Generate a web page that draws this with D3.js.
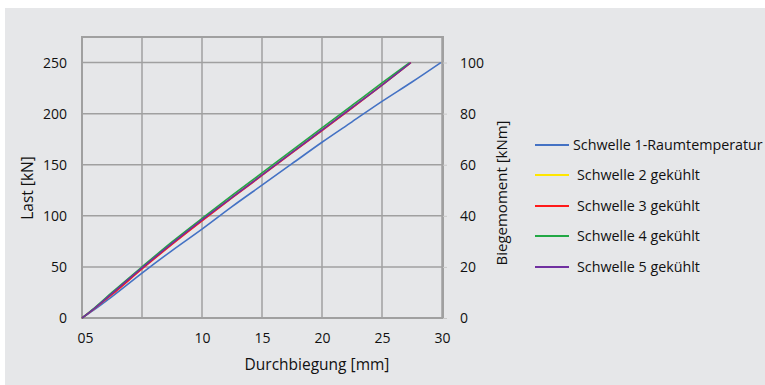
<!DOCTYPE html>
<html>
<head>
<meta charset="utf-8">
<script src="https://cdn.jsdelivr.net/npm/d3@7"></script>
<style>
  body { margin: 0; background: #fff; }
  text { font-family: "Open Sans", sans-serif; fill: #111; }
</style>
</head>
<body>
<div id="container"></div>
<script>
/* Data */
var seriesNames = ["Schwelle 1-Raumtemperatur", "Schwelle 2 gekühlt", "Schwelle 3 gekühlt", "Schwelle 4 gekühlt", "Schwelle 5 gekühlt"];
var seriesColors = ["#4472c4", "#ffe600", "#ff1a1a", "#22a845", "#7030a0"];

var s1 = [[0,0],[1,8],[2.5,21],[5,44],[7.5,66],[10,87],[12.5,109],[15,130],[17.5,151],[20,172],[22.5,192],[25,212],[27.5,231],[29.9,250]];
var s2 = [[0,0],[1,9],[2.5,23.5],[5,48.5],[7.5,72.5],[10,95.5],[12.5,118],[15,140],[17.5,162],[20,184],[22.5,206],[25,228],[27.4,250]];
var s3 = [[0,0],[1,9],[2.5,23],[5,48],[7.5,72],[10,95],[12.5,117.5],[15,139.5],[17.5,161.5],[20,183.5],[22.5,205.5],[25,228],[27.4,250]];
var s4 = [[0,0],[1,9.5],[2.5,25],[5,50],[7.5,74.5],[10,97.5],[12.5,120],[15,142],[17.5,164],[20,186],[22.5,208],[25,230],[27.3,250]];
var s5 = [[0,0],[1,9],[2.5,24],[5,49],[7.5,73],[10,96],[12.5,118],[15,140],[17.5,162],[20,184],[22.5,206],[25,228],[27.4,250]];
var allSeries = [s1, s2, s3, s4, s5];

var xTicks = [0, 5, 10, 15, 20, 25, 30];
var xTickLabels = ["05", "", "10", "15", "20", "25", "30"];
var yTicks = [0, 50, 100, 150, 200, 250];
var y2Ticks = [0, 20, 40, 60, 80, 100];

var w = 765, h = 385;
var margin = {top: 37, left: 82, right: 321, bottom: 67};
var plotW = 443 - margin.left, plotH = 318 - margin.top;

var svg = d3.select('#container').append('svg')
	.attr('width', w)
	.attr('height', h);

// grey panel
svg.append('rect')
	.attr('x', 5).attr('y', 8)
	.attr('width', w - 5).attr('height', h - 8)
	.attr('fill', '#e6e7e9');

var g = svg.append('g')
	.attr('transform', 'translate(' + margin.left + ',' + margin.top + ')');

/* Scales */
var xScale = d3.scaleLinear().domain([0, 30]).range([0, 360]),
	yScale = d3.scaleLinear().domain([0, 275]).range([plotH, 0]),
	y2Scale = d3.scaleLinear().domain([0, 110]).range([plotH, 0]);

/* Grid */
g.selectAll('.vgrid').data(xTicks).enter().append('line')
	.attr('x1', d => xScale(d)).attr('x2', d => xScale(d))
	.attr('y1', 0).attr('y2', plotH)
	.attr('stroke', '#a0a0a0').attr('stroke-width', 1.5);
g.selectAll('.hgrid').data(yTicks).enter().append('line')
	.attr('x1', 0).attr('x2', plotW)
	.attr('y1', d => yScale(d)).attr('y2', d => yScale(d))
	.attr('stroke', '#a0a0a0').attr('stroke-width', 1.5);

// plot border
g.append('rect')
	.attr('x', 0).attr('y', 0)
	.attr('width', plotW).attr('height', plotH)
	.attr('fill', 'none').attr('stroke', '#a0a0a0').attr('stroke-width', 2);

/* Axes */
var xAxis = d3.axisBottom(xScale).tickValues(xTicks).tickSize(0)
	.tickFormat((d, i) => xTickLabels[i]);
g.append('g').classed('xaxis', true)
	.attr('transform', 'translate(0,' + plotH + ')')
	.call(xAxis)
	.call(a => a.select('.domain').remove())
	.selectAll('text')
		.attr('y', 15)
		.attr('dx', (d, i) => i === 0 ? 3 : 0)
		.style('font-size', '14px');

var yAxis = d3.axisLeft(yScale).tickValues(yTicks).tickSize(0);
g.append('g').classed('yaxis', true)
	.call(yAxis)
	.call(a => a.select('.domain').remove())
	.selectAll('text')
		.attr('x', -15)
		.style('font-size', '14px');

var y2Axis = d3.axisRight(y2Scale).tickValues(y2Ticks).tickSize(4);
g.append('g').classed('y2axis', true)
	.attr('transform', 'translate(' + plotW + ',0)')
	.call(y2Axis)
	.call(a => a.select('.domain').remove())
	.call(a => a.selectAll('line').attr('stroke', '#c8c8c8'))
	.selectAll('text')
		.attr('x', 17)
		.style('font-size', '14px');

g.selectAll('.tick text').attr('fill', '#111').style('font-family', '"Open Sans", sans-serif');

/* Lines */
var line = d3.line()
	.x(d => xScale(d[0]))
	.y(d => yScale(d[1]))
	.curve(d3.curveMonotoneX);

g.selectAll('.series').data(allSeries).enter().append('path')
	.attr('d', line)
	.attr('fill', 'none')
	.attr('stroke', (d, i) => seriesColors[i])
	.attr('stroke-width', 1.6);

/* Axis titles */
svg.append('text')
	.attr('transform', 'translate(33,188) rotate(-90)')
	.attr('text-anchor', 'middle')
	.style('font-size', '15.5px')
	.text('Last [kN]');
svg.append('text')
	.attr('transform', 'translate(507,193) rotate(-90)')
	.attr('text-anchor', 'middle')
	.style('font-size', '15px')
	.text('Biegemoment [kNm]');
svg.append('text')
	.attr('x', 317).attr('y', 370)
	.attr('text-anchor', 'middle')
	.style('font-size', '15.5px')
	.text('Durchbiegung [mm]');

/* Legend */
var legendY = [145, 175, 206, 236, 267];
var legend = svg.selectAll('.legend').data(seriesNames).enter().append('g')
	.attr('transform', (d, i) => 'translate(535,' + legendY[i] + ')');
legend.append('line')
	.attr('x1', 0).attr('x2', 34)
	.attr('stroke', (d, i) => seriesColors[i])
	.attr('stroke-width', 1.8);
legend.append('text')
	.attr('x', (d, i) => i === 0 ? 38 : 42)
	.attr('dy', '0.35em')
	.style('font-size', '14.3px')
	.text(d => d);
</script>
</body>
</html>
